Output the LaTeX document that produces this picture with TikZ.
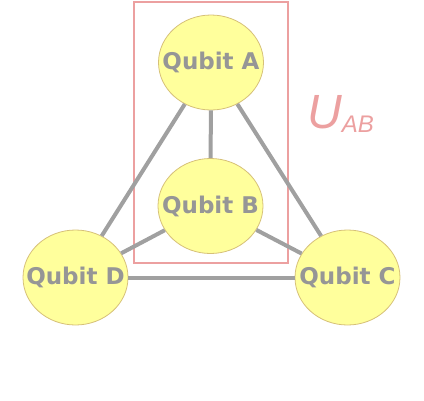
\documentclass[tikz,border=0pt]{standalone}
\usepackage{fontspec}
\usetikzlibrary{shapes.geometric}
\newfontfamily\qfont{DejaVu Sans}
\newfontfamily\ufont{Liberation Sans}
\definecolor{qfill}{RGB}{255,255,156}
\definecolor{qedge}{RGB}{214,192,120}
\definecolor{qtext}{RGB}{150,150,150}
\definecolor{qline}{RGB}{160,160,160}
\definecolor{upink}{RGB}{236,160,160}
\newcommand{\qlabel}[1]{\makebox[0pt]{#1}}
\begin{document}
\begin{tikzpicture}[x=1bp,y=-1bp,
  qubit/.style={ellipse, draw=qedge, line width=0.8bp, fill=qfill,
    minimum width=105bp, minimum height=95bp, inner sep=0pt,
    text=qtext, font=\qfont\bfseries\fontsize{23bp}{23bp}\selectfont},
  link/.style={draw=qline, line width=4bp},
  gatebox/.style={draw=upink, line width=2bp, inner sep=0pt}]
\useasboundingbox (0,0) rectangle (424,401);
\node[gatebox, minimum width=154bp, minimum height=261bp] (box) at (211,132.5) {};
\node[qubit] (A) at (211,62.5) {\qlabel{Qubit A}};
\node[qubit] (B) at (210.5,206) {\qlabel{Qubit B}};
\node[qubit] (C) at (347.5,277.5) {\qlabel{Qubit C}};
\node[qubit] (D) at (75.5,277.5) {\qlabel{Qubit D}};
\draw[link] (A) -- (B);
\draw[link] (A) -- (C);
\draw[link] (A) -- (D);
\draw[link] (B) -- (C);
\draw[link] (B) -- (D);
\draw[link] (D) -- (C);
\node[anchor=base west, inner sep=0pt, text=upink,
  font=\ufont\itshape\fontsize{48bp}{48bp}\selectfont] (uab) at (307,128)
  {U\raisebox{-4bp}{\fontsize{24bp}{24bp}\selectfont AB}};
\end{tikzpicture}
\end{document}
